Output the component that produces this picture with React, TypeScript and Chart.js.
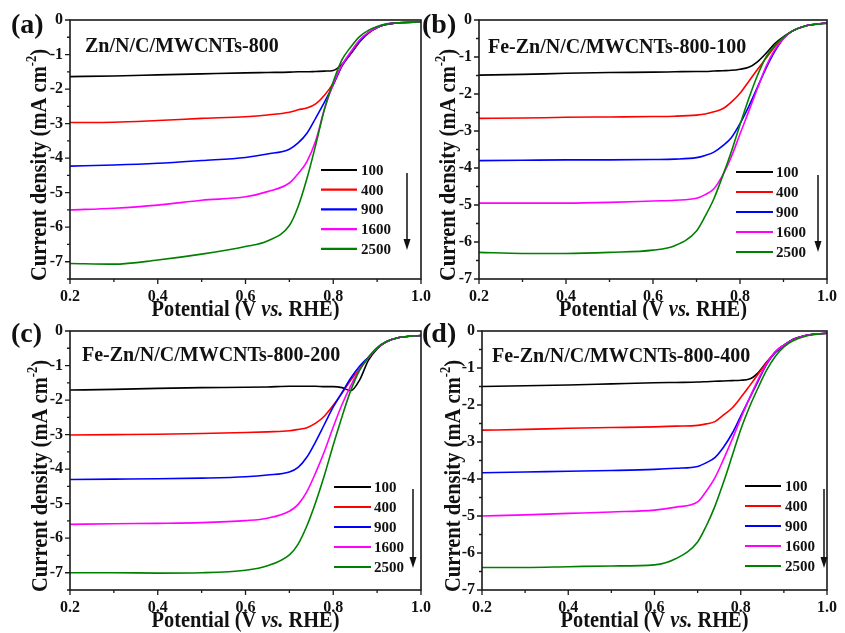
import React, { useEffect, useRef } from 'react';
import { Chart, registerables } from 'chart.js';

Chart.register(...registerables);

// ---------- data ----------
const potentials = [0.2, 0.3, 0.4, 0.5, 0.6, 0.65, 0.7, 0.72, 0.74, 0.76, 0.78, 0.8, 0.82, 0.84, 0.86, 0.88, 0.9, 0.92, 0.95, 1.0];
const rpmLabels = ['100', '400', '900', '1600', '2500'];
const xTickValues = [0.2, 0.4, 0.6, 0.8, 1.0];
const xMinorValues = [0.3, 0.5, 0.7, 0.9];
const yTickValues = [0, -1, -2, -3, -4, -5, -6, -7];
const yMinimums = [-7.5, -7, -7.5, -7];
const panelLetters = ['(a)', '(b)', '(c)', '(d)'];
const panelTitles = ['Zn/N/C/MWCNTs-800', 'Fe-Zn/N/C/MWCNTs-800-100', 'Fe-Zn/N/C/MWCNTs-800-200', 'Fe-Zn/N/C/MWCNTs-800-400'];

// (a) Zn/N/C/MWCNTs-800
const a100 = [-1.64, -1.62, -1.59, -1.56, -1.53, -1.52, -1.51, -1.5, -1.5, -1.49, -1.48, -1.46, -1.28, -0.98, -0.64, -0.38, -0.22, -0.13, -0.08, -0.06];
const a400 = [-2.97, -2.96, -2.91, -2.85, -2.8, -2.75, -2.67, -2.6, -2.55, -2.43, -2.18, -1.83, -1.32, -0.96, -0.62, -0.38, -0.22, -0.13, -0.08, -0.06];
const a900 = [-4.23, -4.2, -4.15, -4.07, -3.98, -3.88, -3.74, -3.56, -3.28, -2.84, -2.38, -1.88, -1.33, -0.95, -0.6, -0.37, -0.22, -0.13, -0.08, -0.06];
const a1600 = [-5.5, -5.45, -5.36, -5.22, -5.12, -4.97, -4.72, -4.45, -4.1, -3.5, -2.58, -1.86, -1.3, -0.92, -0.58, -0.36, -0.21, -0.12, -0.08, -0.06];
const a2500 = [-7.05, -7.07, -6.95, -6.78, -6.56, -6.4, -5.95, -5.4, -4.59, -3.62, -2.58, -1.79, -1.15, -0.78, -0.48, -0.3, -0.19, -0.12, -0.08, -0.06];

// (b) Fe-Zn/N/C/MWCNTs-800-100
const b100 = [-1.49, -1.47, -1.44, -1.42, -1.41, -1.4, -1.39, -1.39, -1.38, -1.37, -1.36, -1.33, -1.28, -1.13, -0.9, -0.64, -0.45, -0.3, -0.16, -0.08];
const b400 = [-2.66, -2.65, -2.63, -2.62, -2.61, -2.6, -2.57, -2.54, -2.48, -2.4, -2.22, -1.98, -1.66, -1.34, -1.03, -0.72, -0.47, -0.3, -0.16, -0.08];
const b900 = [-3.8, -3.79, -3.78, -3.78, -3.77, -3.76, -3.72, -3.66, -3.57, -3.4, -3.18, -2.8, -2.34, -1.82, -1.3, -0.85, -0.5, -0.3, -0.16, -0.08];
const b1600 = [-4.95, -4.95, -4.95, -4.93, -4.89, -4.87, -4.82, -4.72, -4.56, -4.2, -3.7, -3.08, -2.47, -1.85, -1.25, -0.8, -0.5, -0.3, -0.16, -0.08];
const b2500 = [-6.28, -6.31, -6.31, -6.28, -6.22, -6.1, -5.7, -5.3, -4.83, -4.22, -3.56, -2.83, -2.13, -1.5, -1.0, -0.68, -0.47, -0.3, -0.16, -0.09];

// (c) Fe-Zn/N/C/MWCNTs-800-200
const c100 = [-1.71, -1.69, -1.66, -1.64, -1.63, -1.62, -1.6, -1.6, -1.6, -1.6, -1.61, -1.61, -1.64, -1.73, -1.42, -0.85, -0.52, -0.32, -0.19, -0.13];
const c400 = [-3.01, -3.0, -2.99, -2.97, -2.94, -2.92, -2.89, -2.85, -2.8, -2.67, -2.46, -2.15, -1.8, -1.42, -1.09, -0.77, -0.5, -0.32, -0.19, -0.13];
const c900 = [-4.3, -4.29, -4.28, -4.26, -4.22, -4.17, -4.08, -3.95, -3.65, -3.2, -2.7, -2.2, -1.78, -1.36, -1.02, -0.76, -0.5, -0.32, -0.19, -0.13];
const c1600 = [-5.6, -5.58, -5.57, -5.55, -5.49, -5.42, -5.22, -5.02, -4.65, -4.1, -3.48, -2.78, -2.13, -1.58, -1.12, -0.78, -0.5, -0.32, -0.19, -0.13];
const c2500 = [-7.0, -7.0, -7.01, -7.0, -6.93, -6.8, -6.48, -6.17, -5.64, -4.96, -4.17, -3.3, -2.48, -1.72, -1.14, -0.77, -0.48, -0.31, -0.19, -0.13];

// (d) Fe-Zn/N/C/MWCNTs-800-400
const d100 = [-1.5, -1.48, -1.46, -1.43, -1.4, -1.39, -1.38, -1.37, -1.36, -1.35, -1.34, -1.33, -1.3, -1.13, -0.84, -0.58, -0.4, -0.23, -0.12, -0.06];
const d400 = [-2.68, -2.66, -2.63, -2.61, -2.59, -2.57, -2.55, -2.51, -2.45, -2.27, -2.08, -1.8, -1.49, -1.17, -0.86, -0.56, -0.38, -0.24, -0.12, -0.06];
const d900 = [-3.83, -3.81, -3.79, -3.77, -3.74, -3.71, -3.66, -3.56, -3.42, -3.14, -2.77, -2.3, -1.83, -1.36, -0.9, -0.58, -0.38, -0.24, -0.12, -0.06];
const d1600 = [-5.0, -4.97, -4.93, -4.89, -4.84, -4.76, -4.62, -4.33, -3.97, -3.47, -2.93, -2.36, -1.82, -1.32, -0.88, -0.56, -0.38, -0.24, -0.12, -0.06];
const d2500 = [-6.39, -6.39, -6.37, -6.35, -6.32, -6.15, -5.7, -5.27, -4.74, -4.09, -3.38, -2.66, -2.06, -1.54, -1.06, -0.69, -0.43, -0.27, -0.14, -0.06];

const PANEL_SERIES = [
  [a100, a400, a900, a1600, a2500],
  [b100, b400, b900, b1600, b2500],
  [c100, c400, c900, c1600, c2500],
  [d100, d400, d900, d1600, d2500],
];

// ---------- styles / layout ----------
const seriesColors = ['#000000', '#ff0000', '#0000ff', '#ff00ff', '#008000'];
const FONT = '"Liberation Serif", "Times New Roman", serif';
const INK = '#111111';

const LAYOUT = [
  { canvas: { l: 0, t: 0, w: 440, h: 320 }, area: { l: 70, t: 20, r: 421, b: 279 }, letter: { x: 11, y: 33 }, title: { x: 85, y: 52 }, yTitleX: 46, legend: { x1: 321, x2: 357, tx: 361, y0: 170, dy: 19.7 }, arrow: { x: 407, y1: 173, y2: 250 } },
  { canvas: { l: 420, t: 0, w: 425, h: 320 }, area: { l: 479, t: 20, r: 830, b: 279 }, letter: { x: 422, y: 33 }, title: { x: 488, y: 52.5 }, yTitleX: 455, legend: { x1: 736, x2: 773, tx: 776, y0: 172, dy: 20 }, arrow: { x: 818, y1: 175, y2: 252 } },
  { canvas: { l: 0, t: 312, w: 440, h: 321 }, area: { l: 70, t: 331, r: 421, b: 590 }, letter: { x: 11, y: 342 }, title: { x: 82, y: 361 }, yTitleX: 47, legend: { x1: 334, x2: 371, tx: 374, y0: 487, dy: 20 }, arrow: { x: 413, y1: 489, y2: 568 } },
  { canvas: { l: 420, t: 312, w: 425, h: 321 }, area: { l: 482, t: 331, r: 833, b: 590 }, letter: { x: 422, y: 342 }, title: { x: 492, y: 361.5 }, yTitleX: 460, legend: { x1: 745, x2: 781, tx: 785, y0: 486, dy: 20 }, arrow: { x: 824, y1: 489, y2: 568 } },
];

function makePlugin(idx: number) {
  const L = LAYOUT[idx];
  return {
    id: 'panelDecor' + idx,
    afterDraw(chart: any) {
      const ctx: CanvasRenderingContext2D = chart.ctx;
      const ox = L.canvas.l;
      const oy = L.canvas.t;
      const xs = chart.scales.x;
      const ys = chart.scales.y;
      const a = chart.chartArea;
      ctx.save();

      // frame
      ctx.strokeStyle = '#1a1a1a';
      ctx.lineWidth = 1.6;
      ctx.strokeRect(a.left, a.top, a.right - a.left, a.bottom - a.top);

      // outward ticks
      ctx.lineWidth = 1.3;
      ctx.beginPath();
      xTickValues.forEach((v) => {
        const px = xs.getPixelForValue(v);
        ctx.moveTo(px, a.bottom);
        ctx.lineTo(px, a.bottom + 5);
      });
      xMinorValues.forEach((v) => {
        const px = xs.getPixelForValue(v);
        ctx.moveTo(px, a.bottom);
        ctx.lineTo(px, a.bottom + 3);
      });
      const ymin = yMinimums[idx];
      yTickValues.forEach((v) => {
        const py = ys.getPixelForValue(v);
        ctx.moveTo(a.left, py);
        ctx.lineTo(a.left - 5, py);
        const half = v - 0.5;
        if (half >= ymin - 1e-9) {
          const ph = ys.getPixelForValue(half);
          ctx.moveTo(a.left, ph);
          ctx.lineTo(a.left - 3, ph);
        }
      });
      ctx.stroke();

      ctx.fillStyle = INK;
      ctx.textBaseline = 'alphabetic';
      ctx.textAlign = 'left';

      // panel letter
      ctx.font = `bold 28px ${FONT}`;
      ctx.fillText(panelLetters[idx], L.letter.x - ox, L.letter.y - oy);

      // panel title
      ctx.font = `bold 20px ${FONT}`;
      ctx.fillText(panelTitles[idx], L.title.x - ox, L.title.y - oy);

      // x-axis title with italic "vs."
      const xParts: [string, string][] = [
        ['Potential (V ', 'bold'],
        ['vs.', 'italic bold'],
        [' RHE)', 'bold'],
      ];
      let total = 0;
      const widths = xParts.map(([t, s]) => {
        ctx.font = `${s} 23px ${FONT}`;
        const w = ctx.measureText(t).width;
        total += w;
        return w;
      });
      const sx = 188 / total;
      ctx.save();
      ctx.translate((a.left + a.right) / 2 - (total * sx) / 2, a.bottom + 37);
      ctx.scale(sx, 1);
      let cx = 0;
      xParts.forEach(([t, s], i) => {
        ctx.font = `${s} 23px ${FONT}`;
        ctx.fillText(t, cx, 0);
        cx += widths[i];
      });
      ctx.restore();

      // y-axis title with superscript
      const main = 'Current density (mA cm';
      const sup = '-2';
      const close = ')';
      ctx.font = `bold 23px ${FONT}`;
      const wMain = ctx.measureText(main).width;
      const wClose = ctx.measureText(close).width;
      ctx.font = `bold 14px ${FONT}`;
      const wSup = ctx.measureText(sup).width;
      const yTot = wMain + wSup + wClose;
      const sy = 232 / yTot;
      ctx.save();
      ctx.translate(L.yTitleX - ox, a.bottom + 2);
      ctx.rotate(-Math.PI / 2);
      ctx.scale(sy, 1);
      ctx.font = `bold 23px ${FONT}`;
      ctx.fillText(main, 0, 0);
      ctx.font = `bold 14px ${FONT}`;
      ctx.fillText(sup, wMain, -10);
      ctx.font = `bold 23px ${FONT}`;
      ctx.fillText(close, wMain + wSup, 0);
      ctx.restore();

      // legend
      const lg = L.legend;
      ctx.font = `bold 15px ${FONT}`;
      ctx.textBaseline = 'middle';
      chart.data.datasets.forEach((ds: any, i: number) => {
        const ry = lg.y0 + i * lg.dy - oy;
        ctx.strokeStyle = ds.borderColor;
        ctx.lineWidth = 2.2;
        ctx.beginPath();
        ctx.moveTo(lg.x1 - ox, ry);
        ctx.lineTo(lg.x2 - ox, ry);
        ctx.stroke();
        ctx.fillStyle = INK;
        ctx.fillText(ds.label, lg.tx - ox, ry + 1);
      });

      // arrow
      const ar = L.arrow;
      ctx.strokeStyle = INK;
      ctx.fillStyle = INK;
      ctx.lineWidth = 1.5;
      ctx.beginPath();
      ctx.moveTo(ar.x - ox, ar.y1 - oy);
      ctx.lineTo(ar.x - ox, ar.y2 - 8 - oy);
      ctx.stroke();
      ctx.beginPath();
      ctx.moveTo(ar.x - 3.5 - ox, ar.y2 - 11 - oy);
      ctx.lineTo(ar.x + 3.5 - ox, ar.y2 - 11 - oy);
      ctx.lineTo(ar.x - ox, ar.y2 - oy);
      ctx.closePath();
      ctx.fill();

      ctx.restore();
    },
  };
}

function Panel({ idx }: { idx: number }) {
  const ref = useRef<HTMLCanvasElement>(null);
  const L = LAYOUT[idx];
  useEffect(() => {
    const series = PANEL_SERIES[idx];
    const tickFont = { family: FONT, size: 16, weight: 'bold' as const };
    const chart = new Chart(ref.current as HTMLCanvasElement, {
      type: 'line',
      data: {
        datasets: series.map((vals, i) => ({
          label: rpmLabels[i],
          data: potentials.map((x, j) => ({ x, y: vals[j] })),
          borderColor: seriesColors[i],
          backgroundColor: seriesColors[i],
          borderWidth: 1.6,
          pointRadius: 0,
          fill: false,
          cubicInterpolationMode: 'monotone' as const,
          order: 4 - i,
        })),
      },
      options: {
        animation: false,
        responsive: false,
        maintainAspectRatio: false,
        events: [],
        layout: {
          padding: {
            left: 0,
            top: L.area.t - L.canvas.t,
            right: L.canvas.l + L.canvas.w - L.area.r,
            bottom: 0,
          },
        },
        plugins: { legend: { display: false }, tooltip: { enabled: false }, title: { display: false } },
        scales: {
          x: {
            type: 'linear',
            min: 0.2,
            max: 1.0,
            afterBuildTicks: (s: any) => {
              s.ticks = xTickValues.map((v) => ({ value: v }));
            },
            afterFit: (s: any) => {
              s.height = L.canvas.t + L.canvas.h - L.area.b;
            },
            ticks: {
              callback: (v: any) => Number(v).toFixed(1),
              font: tickFont,
              color: INK,
              padding: 8,
              maxRotation: 0,
              autoSkip: false,
            },
            grid: { display: false, drawTicks: false },
            border: { display: false },
          },
          y: {
            type: 'linear',
            min: yMinimums[idx],
            max: 0,
            afterBuildTicks: (s: any) => {
              s.ticks = yTickValues.map((v) => ({ value: v }));
            },
            afterFit: (s: any) => {
              s.width = L.area.l - L.canvas.l;
            },
            ticks: {
              callback: (v: any) => String(v),
              font: tickFont,
              color: INK,
              padding: 7,
              autoSkip: false,
            },
            grid: { display: false, drawTicks: false },
            border: { display: false },
          },
        },
      },
      plugins: [makePlugin(idx)],
    });
    return () => chart.destroy();
  }, [idx]);
  return (
    <canvas
      ref={ref}
      width={L.canvas.w}
      height={L.canvas.h}
      style={{ position: 'absolute', left: L.canvas.l, top: L.canvas.t, width: L.canvas.w, height: L.canvas.h }}
    />
  );
}

export default function App() {
  return (
    <div style={{ position: 'absolute', left: 0, top: 0, width: 845, height: 633, background: '#ffffff', overflow: 'hidden' }}>
      {[0, 1, 2, 3].map((i) => (
        <Panel key={i} idx={i} />
      ))}
    </div>
  );
}
